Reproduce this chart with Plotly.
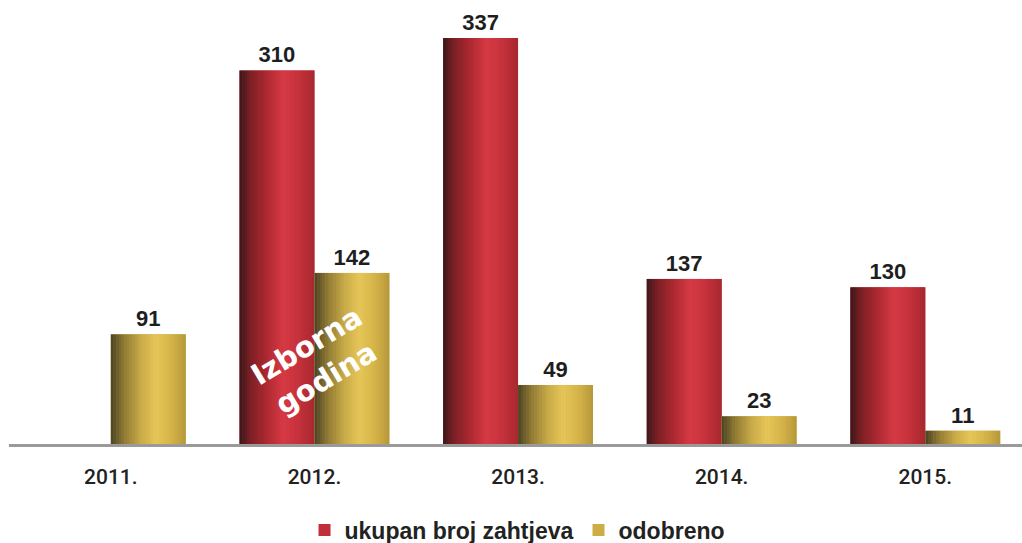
import numpy as np
import plotly.graph_objects as go

years = ["2011.", "2012.", "2013.", "2014.", "2015."]
ukupan = [None, 310, 337, 137, 130]
odobreno = [91, 142, 49, 23, 11]

series_names = ["ukupan broj zahtjeva", "odobreno"]
legend_colors = ["#c1303a", "#cfad45"]

# gradient stops (position, rgb)
red_stops = [(0.0, (58, 24, 26)), (0.15, (125, 32, 37)), (0.35, (170, 40, 48)),
             (0.58, (214, 58, 68)), (0.78, (198, 50, 60)), (1.0, (168, 40, 47))]
gold_stops = [(0.0, (74, 66, 36)), (0.18, (145, 122, 52)), (0.4, (200, 170, 72)),
              (0.6, (230, 198, 88)), (0.82, (212, 178, 72)), (1.0, (180, 152, 58))]

BW = 0.368
N = 28


def grad_color(stops, t):
    pos = [s[0] for s in stops]
    rgb = [np.interp(t, pos, [s[1][k] for s in stops]) for k in range(3)]
    return "rgb(%d,%d,%d)" % tuple(int(round(v)) for v in rgb)


fig = go.Figure()

label_font = dict(family="Liberation Sans, Arial, sans-serif", size=22,
                  color="#1e1e1e", weight="bold")

for name, vals, off, stops, col in [
    (series_names[0], ukupan, -BW, red_stops, legend_colors[0]),
    (series_names[1], odobreno, 0.0, gold_stops, legend_colors[1]),
]:
    fig.add_trace(go.Bar(
        x=years, y=vals, name=name, offset=off, width=BW,
        marker=dict(color=col, line=dict(width=0)),
        text=[None if v is None else str(v) for v in vals],
        textposition="outside", textfont=label_font,
        cliponaxis=False, hoverinfo="skip",
    ))
    w = BW / N
    for i in range(N):
        t = (i + 0.5) / N
        fig.add_trace(go.Bar(
            x=years, y=vals, offset=off + i * w,
            width=w * (1.0 if i == N - 1 else 1.15),
            marker=dict(color=grad_color(stops, t), line=dict(width=0)),
            showlegend=False, hoverinfo="skip",
        ))

fig.add_annotation(
    x=1, y=68, xref="x", yref="y", xshift=2,
    text="<b>Izborna<br>godina</b>", showarrow=False, textangle=-31,
    font=dict(family="DejaVu Sans, sans-serif", size=29, color="white"),
)

fig.update_layout(
    width=1022, height=543,
    paper_bgcolor="white", plot_bgcolor="white",
    margin=dict(l=9, r=0, t=30, b=99, autoexpand=False),
    barmode="overlay", uniformtext=dict(mode=False),
    xaxis=dict(
        type="category", range=[-0.5, 4.475], showgrid=False,
        showline=True, linecolor="#9a9a9a", linewidth=3,
        ticks="", tickfont=dict(family="Roboto, Liberation Sans, sans-serif", size=21,
                                color="#222", weight=500),
        ticklabelstandoff=12,
    ),
    yaxis=dict(range=[0, 343.6], visible=False, showgrid=False, zeroline=False),
    legend=dict(
        orientation="h", x=0.502, xanchor="center", y=-0.2077, yanchor="middle",
        font=dict(family="Liberation Sans, Arial, sans-serif", size=23, color="#222",
                  weight="bold"),
        itemwidth=30, traceorder="normal",
    ),
    showlegend=True,
)

fig.write_html("out.html", config={"displayModeBar": False},
               post_script="document.body.style.margin='0';")
